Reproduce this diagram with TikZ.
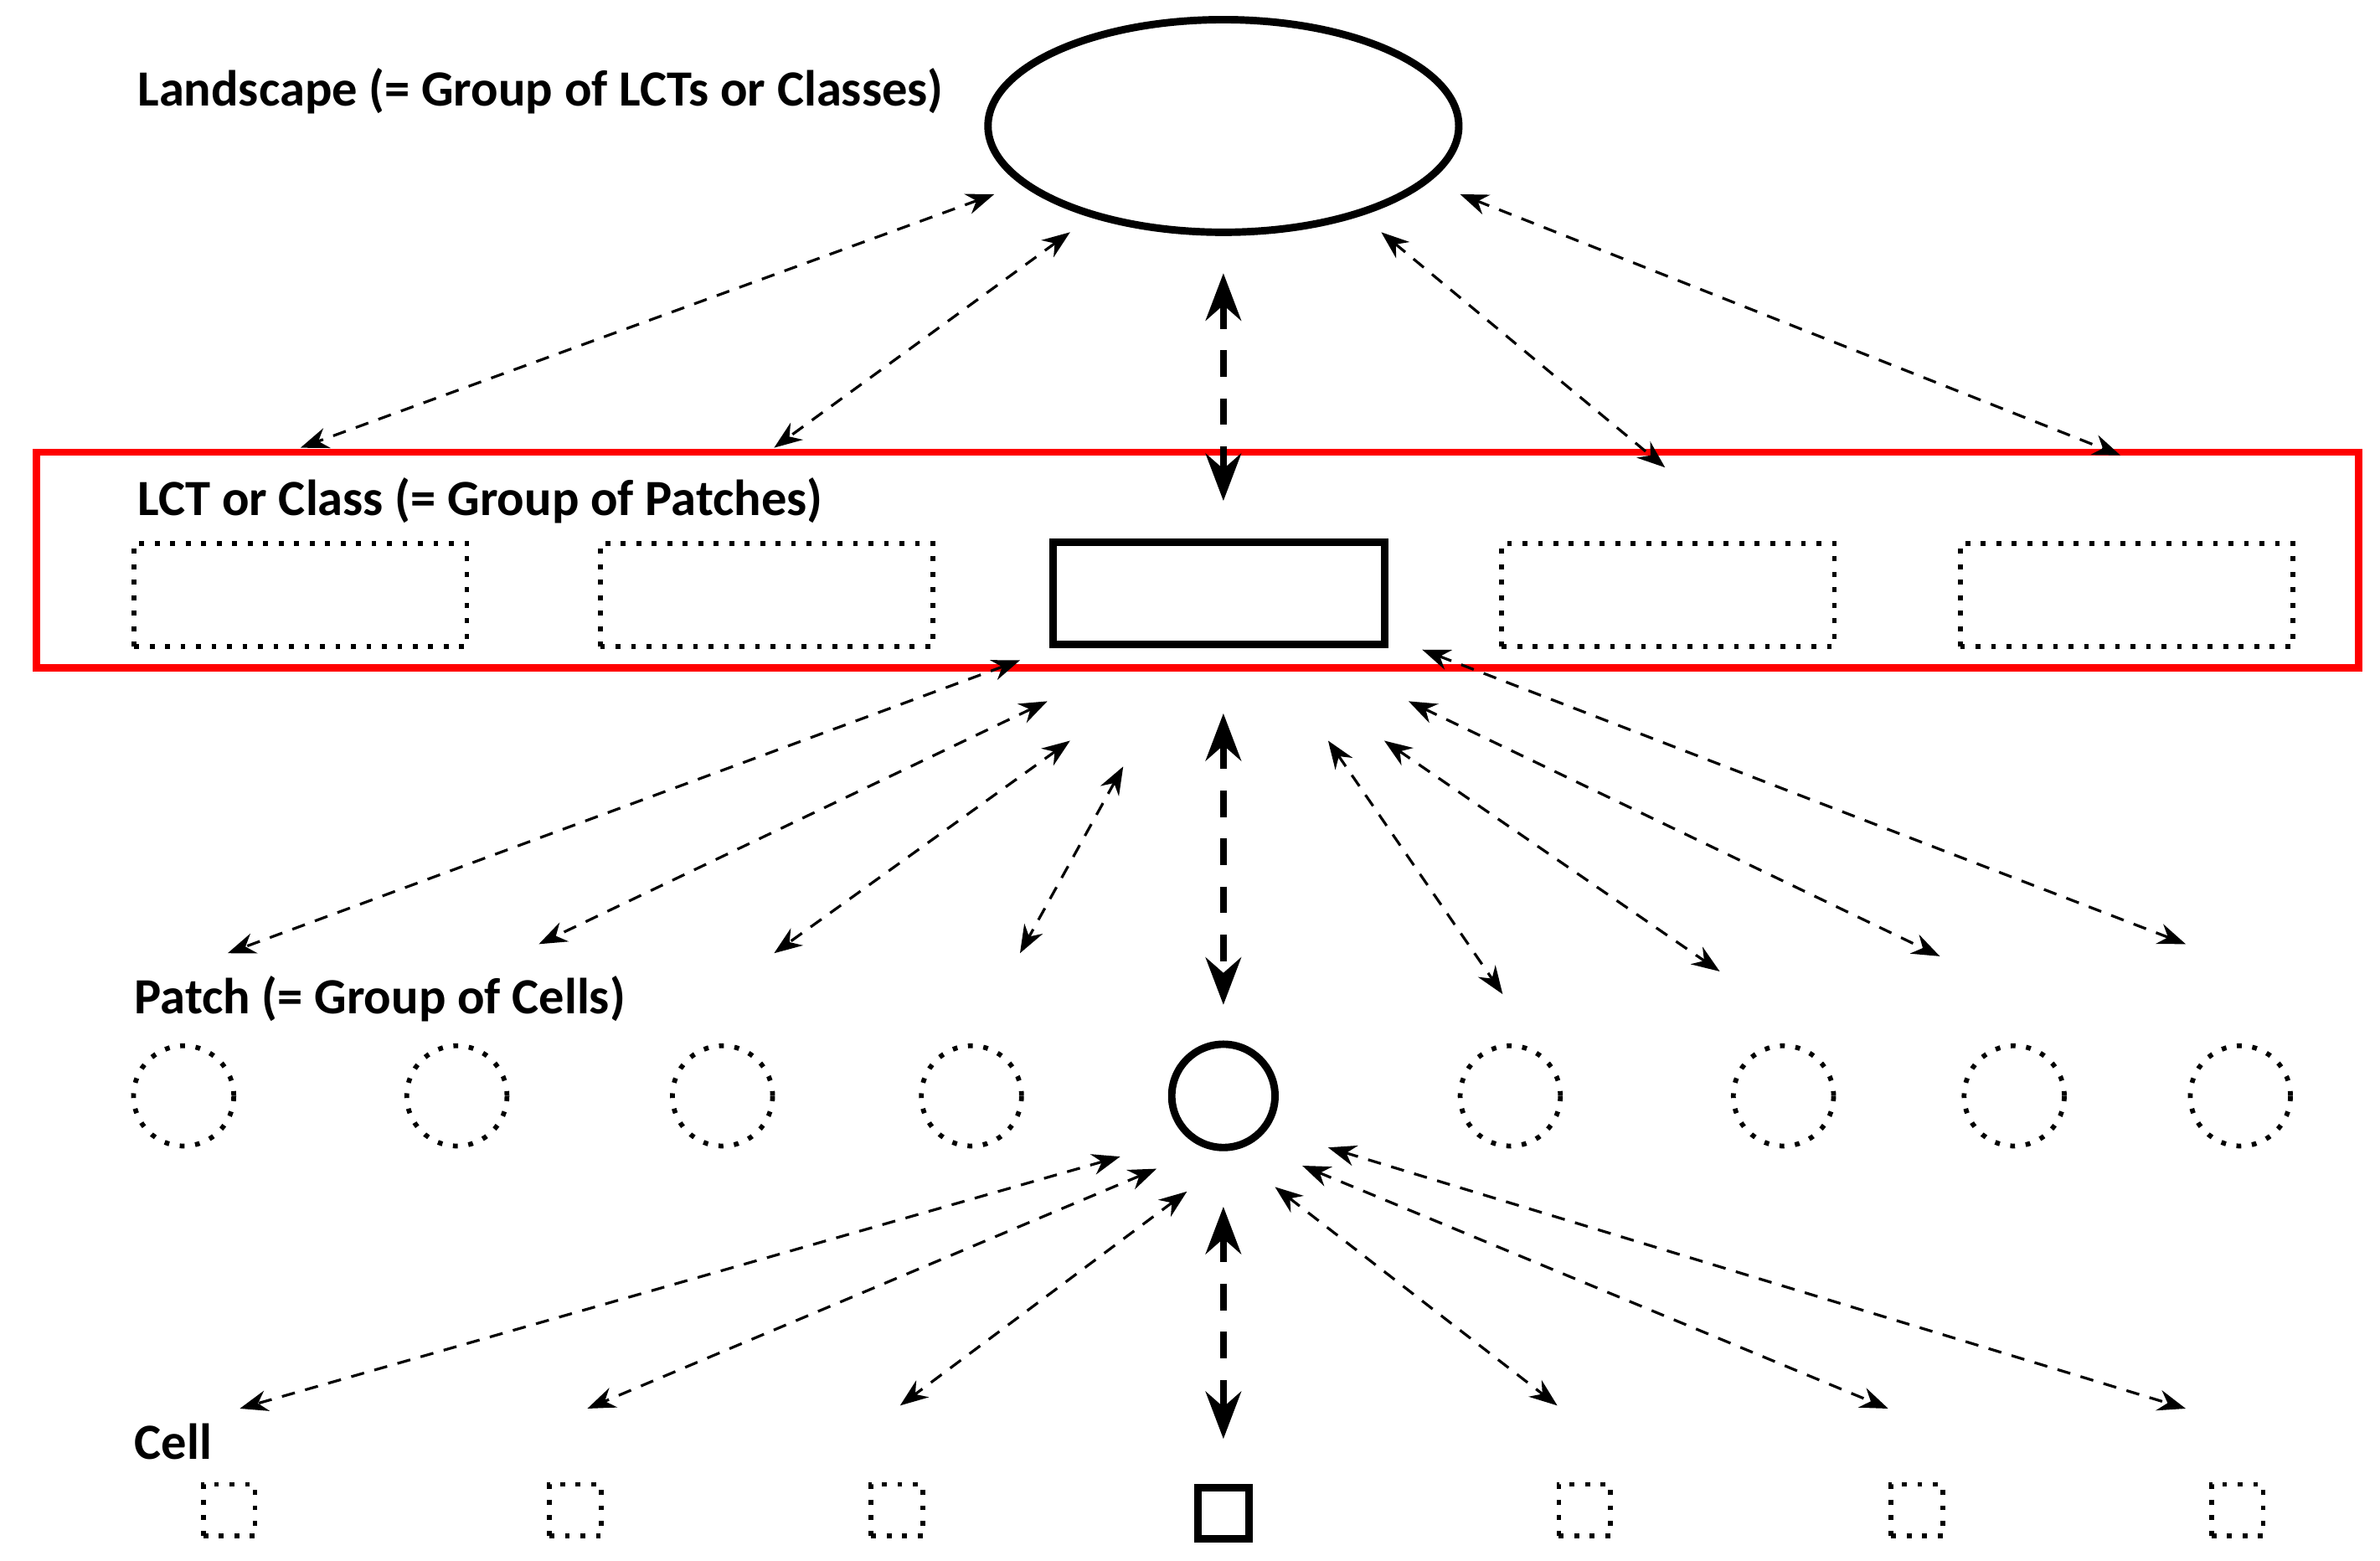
\documentclass[tikz,border=0pt]{standalone}
\usepackage{fontspec}
\setmainfont{Carlito}
\usetikzlibrary{arrows.meta,calc,shapes.geometric}
\tikzset{
    >={Stealth[]},
    lbl/.style={anchor=west,font=\bfseries\fontsize{9.5}{11}\selectfont,inner sep=0pt},
    link/.style={<->,dashed,line width=0.5pt,dash pattern=on 2.5pt off 2pt},
    mainlink/.style={<->,line width=1.3pt,dash pattern=on 5pt off 4pt},
    ghost/.style={draw,dotted,line width=0.9pt},
    focus/.style={draw,line width=1.4pt}
}
\begin{document}
\begin{tikzpicture}[x=0.01cm,y=-0.01cm]
    \useasboundingbox (0,0) rectangle (1568,1028);

    % Landscape
    \node[lbl] (lland) at (90,60) {Landscape (= Group of LCTs or Classes)};
    \node[focus,ellipse,minimum width=3.1cm,minimum height=1.4cm] (land) at (806,83) {};
    \draw[red,line width=1.3pt] (24,298) rectangle (1554,440);

    % LCT or class
    \node[lbl] (llct) at (90,330) {LCT or Class (= Group of Patches)};
    \foreach \x/\n in {198/1,505/2,1099/4,1401/5}
        \node[ghost,minimum width=2.19cm,minimum height=0.68cm] (c\n) at (\x,392) {};
    \node[focus,minimum width=2.18cm,minimum height=0.67cm] (c3) at (803,391) {};

    % Patch
    \node[lbl] (lpatch) at (88,658) {Patch (= Group of Cells)};
    \foreach \x/\n in {121/1,301/2,476/3,640/4,995/6,1175/7,1327/8,1476/9}
        \node[ghost,circle,minimum size=0.66cm] (p\n) at (\x,722) {};
    \node[focus,circle,minimum size=0.68cm] (p5) at (806,722) {};

    % Cell
    \node[lbl] (lcell) at (88,950) {Cell};
    \foreach \x/\n in {151/1,379/2,591/3,1044/5,1263/6,1474/7}
        \node[ghost,minimum size=0.34cm] (s\n) at (\x,995) {};
    \node[focus,minimum size=0.34cm] (s4) at (806,997) {};

    % arrow end points
    \foreach \n/\x/\y in {a1/655/128,a2/198/295,a3/705/153,a4/510/295,a5/910/153,a6/1097/308,a7/962/128,a8/1397/300,
        b1/672/435,b2/150/628,b3/690/462,b4/355/622,b5/705/488,b6/510/628,b7/740/505,b8/672/628,
        b9/875/488,b10/990/655,b11/912/488,b12/1133/640,b13/928/462,b14/1278/630,b15/937/428,b16/1440/622,
        d1/738/762,d2/158/928,d3/762/770,d4/387/928,d5/782/785,d6/593/926,d7/840/782,d8/1026/926,
        d9/858/768,d10/1244/928,d11/875/756,d12/1440/928,
        m1/806/180,m2/806/330,m3/806/470,m4/806/662,m5/806/795,m6/806/948}
        \coordinate (\n) at (\x,\y);

    \foreach \i/\j in {a1/a2,a3/a4,a5/a6,a7/a8,b1/b2,b3/b4,b5/b6,b7/b8,b9/b10,b11/b12,b13/b14,b15/b16,
        d1/d2,d3/d4,d5/d6,d7/d8,d9/d10,d11/d12}
        \draw[link] (\i) -- (\j);
    \foreach \i/\j in {m1/m2,m3/m4,m5/m6}
        \draw[mainlink] (\i) -- (\j);
\end{tikzpicture}
\end{document}
